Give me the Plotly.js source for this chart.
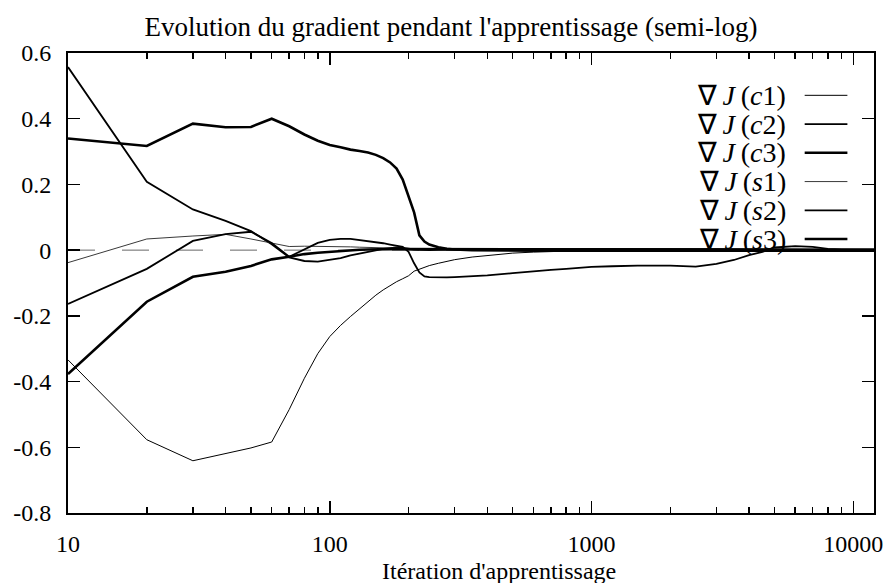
<!DOCTYPE html>
<html>
<head>
<meta charset="utf-8">
<script src="https://cdn.plot.ly/plotly-3.0.1.min.js"></script>
<style>html,body{margin:0;padding:0;background:#fff;}#chart{width:886px;height:583px;}</style>
</head>
<body>
<div id="chart"></div>
<script>
// ---- data ----
const iterations = [10,20,30,40,50,60,70,80,90,100,110,120,130,140,150,160,170,180,190,200,210,220,230,240,260,280,300,350,400,500,600,700,800,1000,1200,1500,2000,2500,3000,3500,4000,4500,5000,6000,7000,8000,9000,10000,12000];

const grad_c1 = [-0.334,-0.577,-0.641,-0.620,-0.602,-0.584,-0.485,-0.390,-0.315,-0.263,-0.229,-0.202,-0.178,-0.157,-0.137,-0.121,-0.107,-0.096,-0.087,-0.078,-0.064,-0.058,-0.052,-0.047,-0.040,-0.034,-0.029,-0.021,-0.016,-0.009,-0.006,-0.004,-0.003,-0.002,-0.002,-0.001,-0.001,-0.001,-0.001,-0.001,-0.001,0.000,0.000,0.000,0.000,0.000,0.000,0.000,0.000];
const grad_c2 = [0.557,0.208,0.124,0.089,0.058,0.018,-0.022,-0.033,-0.035,-0.030,-0.024,-0.016,-0.010,-0.004,0.000,0.004,0.006,0.008,0.007,0.004,0.002,0.001,0.000,0.000,0.001,0.001,0.001,0.001,0.001,0.002,0.002,0.003,0.003,0.004,0.004,0.005,0.005,0.004,0.003,0.002,0.001,0.001,0.001,0.001,0.001,0.001,0.001,0.001,0.001];
const grad_c3 = [0.340,0.317,0.385,0.374,0.375,0.400,0.377,0.352,0.333,0.320,0.313,0.306,0.302,0.297,0.290,0.280,0.267,0.248,0.215,0.165,0.115,0.045,0.026,0.017,0.009,0.004,0.002,0.000,-0.001,-0.001,-0.002,-0.002,-0.002,-0.002,-0.003,-0.003,-0.003,-0.003,-0.003,-0.002,-0.002,-0.002,-0.002,-0.002,-0.002,-0.002,-0.002,-0.002,-0.002];
const grad_s1 = [-0.038,0.034,0.043,0.048,0.034,0.022,0.011,0.012,0.012,0.012,0.011,0.010,0.009,0.008,0.008,0.007,0.006,0.006,0.005,0.005,0.005,0.004,0.004,0.004,0.004,0.004,0.003,0.003,0.003,0.002,0.002,0.002,0.002,0.002,0.002,0.002,0.002,0.002,0.002,0.002,0.002,0.002,0.002,0.002,0.002,0.002,0.002,0.002,0.002];
const grad_s2 = [-0.164,-0.057,0.028,0.049,0.056,0.022,-0.020,0.002,0.022,0.031,0.034,0.034,0.031,0.027,0.024,0.021,0.017,0.014,0.010,-0.005,-0.040,-0.068,-0.080,-0.082,-0.083,-0.083,-0.082,-0.080,-0.077,-0.070,-0.064,-0.060,-0.057,-0.051,-0.049,-0.047,-0.047,-0.050,-0.042,-0.030,-0.015,-0.005,0.008,0.012,0.010,0.004,0.002,0.002,0.002];
const grad_s3 = [-0.377,-0.157,-0.081,-0.066,-0.048,-0.028,-0.020,-0.012,-0.008,-0.005,-0.003,-0.001,0.001,0.002,0.003,0.003,0.003,0.003,0.003,0.003,0.002,0.002,0.002,0.002,0.002,0.002,0.001,0.001,0.001,0.001,0.001,0.001,0.001,0.001,0.001,0.001,0.001,0.001,0.001,0.001,0.001,0.001,0.001,0.001,0.001,0.001,0.001,0.001,0.001];

const seriesNames = ["∇\u2009<i>J</i>\u2009(<i>c</i>1)","∇\u2009<i>J</i>\u2009(<i>c</i>2)","∇\u2009<i>J</i>\u2009(<i>c</i>3)","∇\u2009<i>J</i>\u2009(<i>s</i>1)","∇\u2009<i>J</i>\u2009(<i>s</i>2)","∇\u2009<i>J</i>\u2009(<i>s</i>3)"];
const xTickVals = [10,100,1000,10000];
const xTickText = ["10","100","1000","10000"];
const yTickVals = [-0.8,-0.6,-0.4,-0.2,0,0.2,0.4,0.6];
const yTickText = ["-0.8","-0.6","-0.4","-0.2","0","0.2","0.4","0.6"];
const titleText = "Evolution du gradient pendant l'apprentissage (semi-log)";
const xTitleText = "Itération d'apprentissage";

// ---- styles ----
const allSeries = [grad_c1,grad_c2,grad_c3,grad_s1,grad_s2,grad_s3];
const widths = [1.0,1.8,2.6,0.9,1.8,2.6];
const colors = ["#000","#000","#000","#222","#000","#000"];

const traces = allSeries.map((ys,i)=>({
  x: iterations, y: ys, type:'scatter', mode:'lines',
  name: seriesNames[i], showlegend:false,
  line:{color:colors[i], width:widths[i]}
}));

const minorVals = [];
[10,100,1000].forEach(d=>{for(let k=2;k<=9;k++) minorVals.push(k*d);});

const FONT = "'Liberation Serif', serif";

// legend rows (text right-aligned, sample lines to the right)
const legTop = 0.908, legStep = 0.0625;
const annotations = seriesNames.map((t,i)=>({
  xref:'paper', yref:'paper', x:0.893, y:legTop - i*legStep,
  xanchor:'right', yanchor:'middle', text:t, showarrow:false,
  font:{family:FONT, size:28, color:'#000'}
}));
annotations.push({
  xref:'paper', yref:'paper', x:0.535, y:-0.125, xanchor:'center', yanchor:'middle',
  text:xTitleText, showarrow:false, font:{family:FONT, size:24, color:'#000'}
});
const shapes = seriesNames.map((t,i)=>({
  type:'line', xref:'paper', yref:'paper', x0:0.914, x1:0.967,
  y0:legTop - i*legStep, y1:legTop - i*legStep,
  line:{color:colors[i], width:widths[i]}
}));
shapes.push({type:'line', xref:'paper', yref:'y', x0:0, x1:1, y0:0, y1:0, layer:'below',
  line:{color:'#666', width:1, dash:'27px,27px'}});

const layout = {
  width:886, height:583,
  margin:{l:68, r:12, t:53, b:70},
  paper_bgcolor:'#fff', plot_bgcolor:'#fff',
  font:{family:FONT, size:23, color:'#000'},
  title:{text:titleText, x:451/886, xref:'container', xanchor:'center', y:0.955, yref:'container', yanchor:'middle',
    font:{family:FONT, size:27, color:'#000'}},
  xaxis:{type:'log', range:[1, Math.log10(12000)], tickmode:'array', tickvals:xTickVals, ticktext:xTickText,
    ticks:'inside', ticklen:12, tickwidth:1.5, tickcolor:'#000', showline:true, linewidth:2, linecolor:'#000',
    mirror:'ticks', showgrid:false, zeroline:false, ticklabelstandoff:8,
    minor:{tickmode:'array', tickvals:minorVals, ticks:'inside', ticklen:6, tickwidth:1.5, tickcolor:'#000', showgrid:false},
    tickfont:{family:FONT, size:24, color:'#000'}},
  yaxis:{range:[-0.8,0.6], tickmode:'array', tickvals:yTickVals, ticktext:yTickText,
    ticks:'inside', ticklen:12, tickwidth:1.5, tickcolor:'#000', showline:true, linewidth:2, linecolor:'#000',
    mirror:'ticks', showgrid:false, zeroline:false, ticklabelstandoff:10,
    tickfont:{family:FONT, size:24, color:'#000'}},
  annotations:annotations, shapes:shapes, showlegend:false
};
Plotly.newPlot('chart', traces, layout, {staticPlot:true, displayModeBar:false});
</script>
</body>
</html>
